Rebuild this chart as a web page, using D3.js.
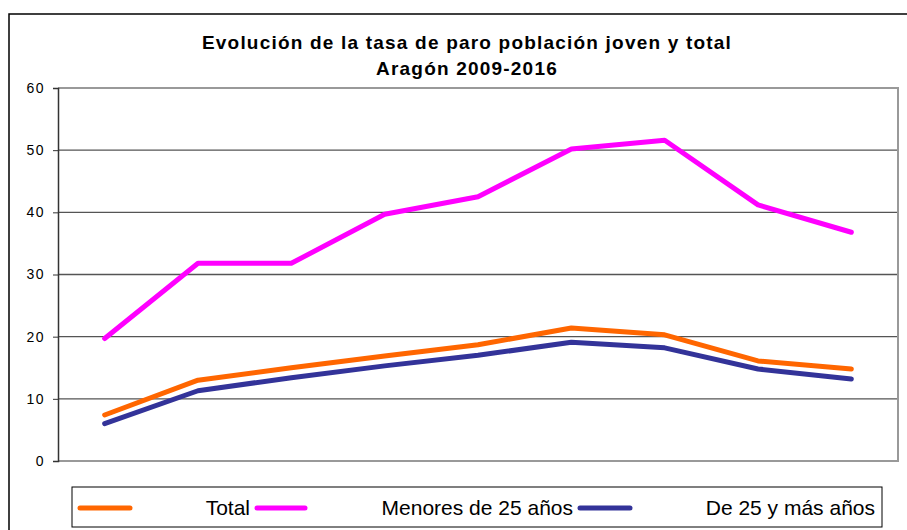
<!DOCTYPE html>
<html lang="es">
<head>
<meta charset="UTF-8">
<title>Tasa de paro Aragón</title>
<script src="https://d3js.org/d3.v7.min.js"></script>
<style>
    html, body { margin: 0; background: #fff; }
    svg { display: block; font-family: "Liberation Sans", Arial, sans-serif; }
</style>
</head>
<body>
<div id="vis"></div>
<script>
// 9 puntos sin etiquetas en el eje X
var years = ["2008", "2009", "2010", "2011", "2012", "2013", "2014", "2015", "2016"];
var total = [7.4, 13.0, 15.0, 16.9, 18.7, 21.4, 20.3, 16.1, 14.8];
var menores25 = [19.7, 31.8, 31.8, 39.7, 42.5, 50.2, 51.6, 41.2, 36.8];
var mayores25 = [6.0, 11.3, 13.4, 15.3, 17.0, 19.1, 18.2, 14.8, 13.2];
var yTicks = [0, 10, 20, 30, 40, 50, 60];

var series = [
    {name: "Total", values: total, color: "#FF6600"},
    {name: "Menores de 25 años", values: menores25, color: "#FF00FF"},
    {name: "De 25 y más años", values: mayores25, color: "#333399"}
];

var width = 907, height = 530;
var plot = {left: 58, right: 898, top: 88, bottom: 461};

var svg = d3.select("#vis").append("svg")
    .attr("width", width)
    .attr("height", height);

// marco exterior
svg.append("rect")
    .attr("x", 9).attr("y", 14)
    .attr("width", 1000).attr("height", 1000)
    .attr("fill", "none")
    .attr("stroke", "#000")
    .attr("stroke-width", 1.5);

// titulo
svg.append("text")
    .attr("x", 467).attr("y", 49)
    .attr("text-anchor", "middle")
    .attr("font-size", 19).attr("font-weight", "bold")
    .attr("letter-spacing", 1.2)
    .text("Evolución de la tasa de paro población joven y total");
svg.append("text")
    .attr("x", 467).attr("y", 75)
    .attr("text-anchor", "middle")
    .attr("font-size", 19).attr("font-weight", "bold")
    .attr("letter-spacing", 1.2)
    .text("Aragón 2009-2016");

var x = d3.scaleBand()
    .domain(years)
    .range([plot.left, plot.right]);

var y = d3.scaleLinear()
    .domain([0, 60])
    .range([plot.bottom, plot.top]);

// lineas de cuadricula
svg.append("g")
    .selectAll("line")
    .data(yTicks.filter(function(d) { return d > 0; }))
    .enter().append("line")
    .attr("x1", plot.left).attr("x2", plot.right)
    .attr("y1", function(d) { return y(d); })
    .attr("y2", function(d) { return y(d); })
    .attr("stroke", "#555")
    .attr("stroke-width", 1.3);

// borde del area de trazado
svg.append("path")
    .attr("d", "M" + plot.left + "," + plot.top + "H" + plot.right + "V" + plot.bottom + "H" + plot.left)
    .attr("fill", "none")
    .attr("stroke", "#999")
    .attr("stroke-width", 2);

var yAxis = d3.axisLeft(y)
    .tickValues(yTicks)
    .tickSize(5)
    .tickPadding(8);

var gy = svg.append("g")
    .attr("transform", "translate(" + plot.left + ",0)")
    .call(yAxis);
gy.select(".domain").attr("stroke", "#333").attr("stroke-width", 1.5);
gy.selectAll(".tick line").attr("stroke", "#333");
gy.selectAll(".tick text")
    .attr("font-size", 14)
    .attr("letter-spacing", 1.5)
    .attr("fill", "#000")
    .style("font-family", "'Liberation Sans', Arial, sans-serif");

var line = d3.line()
    .x(function(d, i) { return x(years[i]) + x.bandwidth() / 2; })
    .y(function(d) { return y(d); });

svg.append("g")
    .selectAll("path")
    .data(series)
    .enter().append("path")
    .attr("d", function(d) { return line(d.values); })
    .attr("fill", "none")
    .attr("stroke", function(d) { return d.color; })
    .attr("stroke-width", 5)
    .attr("stroke-linecap", "round")
    .attr("stroke-linejoin", "round");

// leyenda
svg.append("rect")
    .attr("x", 72).attr("y", 487)
    .attr("width", 810).attr("height", 40)
    .attr("fill", "#fff")
    .attr("stroke", "#000")
    .attr("stroke-width", 1);

var legendX = [[80, 130, 250], [257, 305, 573], [580, 630, 875]];
var legend = svg.append("g")
    .selectAll("g")
    .data(series)
    .enter().append("g");

legend.append("line")
    .attr("x1", function(d, i) { return legendX[i][0]; })
    .attr("x2", function(d, i) { return legendX[i][1]; })
    .attr("y1", 508).attr("y2", 508)
    .attr("stroke", function(d) { return d.color; })
    .attr("stroke-width", 5)
    .attr("stroke-linecap", "round");

legend.append("text")
    .attr("x", function(d, i) { return legendX[i][2]; })
    .attr("y", 515)
    .attr("text-anchor", "end")
    .attr("font-size", 21)
    .text(function(d) { return d.name; });
</script>
</body>
</html>
